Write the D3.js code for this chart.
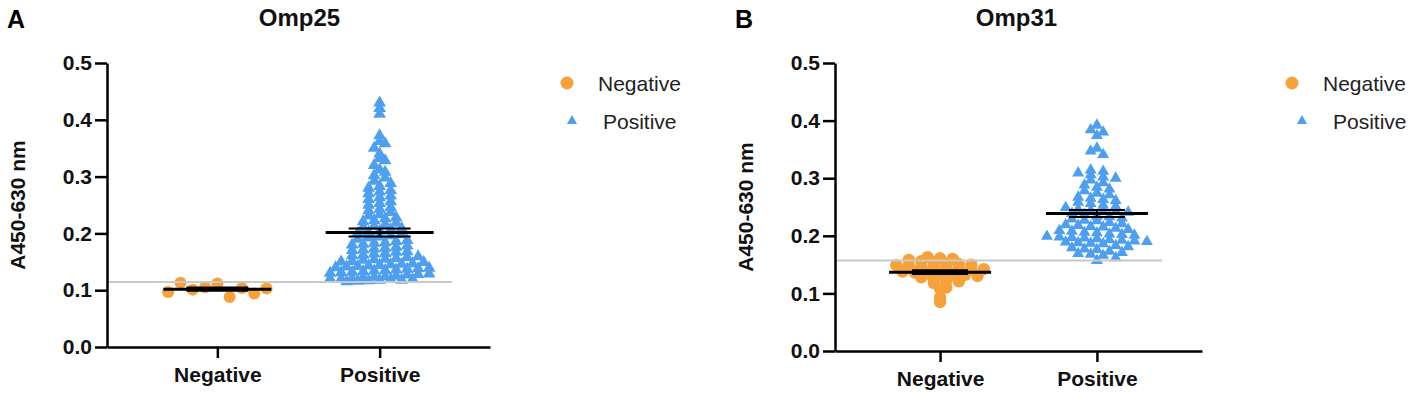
<!DOCTYPE html>
<html>
<head>
<meta charset="utf-8">
<script src="https://cdn.jsdelivr.net/npm/d3@7"></script>
<style>
  body { margin: 0; background: #fff; }
  text { font-family: "Liberation Sans", Arial, Helvetica, sans-serif; }
</style>
</head>
<body>
<svg id="drawing_region"></svg>
<script>
const groups = ["Negative", "Positive"];
const yTicks = [0.0, 0.1, 0.2, 0.3, 0.4, 0.5];

// Omp25 (panel A)
const omp25Negative = [0.097, 0.113, 0.101, 0.105, 0.112, 0.088, 0.104, 0.094, 0.103];
const omp25Positive = [
  0.115, 0.116, 0.117, 0.118, 0.119, 0.118, 0.119,
  0.120, 0.120, 0.121, 0.122, 0.123, 0.124, 0.125,
  0.127, 0.128, 0.129, 0.130, 0.131, 0.132, 0.133, 0.134, 0.135, 0.136,
  0.137, 0.138, 0.139, 0.140, 0.141, 0.142, 0.143, 0.144, 0.145,
  0.146, 0.147, 0.149, 0.150, 0.151, 0.153, 0.154, 0.155,
  0.156, 0.158, 0.159, 0.161, 0.162, 0.164, 0.165,
  0.167, 0.168, 0.170, 0.171, 0.173, 0.174,
  0.176, 0.178, 0.180, 0.181, 0.183, 0.184,
  0.186, 0.188, 0.190, 0.192, 0.194,
  0.196, 0.198, 0.200, 0.202, 0.204,
  0.207, 0.209, 0.211, 0.213,
  0.216, 0.218, 0.221, 0.223,
  0.226, 0.228, 0.231, 0.233,
  0.237, 0.240, 0.243,
  0.246, 0.250, 0.253,
  0.256, 0.260, 0.263,
  0.266, 0.270, 0.273,
  0.276, 0.280, 0.283,
  0.288, 0.292,
  0.298, 0.302,
  0.308, 0.312,
  0.320,
  0.328, 0.332,
  0.340,
  0.350,
  0.358, 0.362,
  0.372,
  0.410, 0.420, 0.430
];
const omp25Cutoff = 0.1145;

// Omp31 (panel B)
const omp31Negative = [
  0.163, 0.161, 0.160,
  0.158, 0.156, 0.154, 0.152, 0.151, 0.150,
  0.149, 0.148, 0.147, 0.146, 0.145, 0.144, 0.143, 0.142,
  0.138, 0.136, 0.135, 0.134, 0.133, 0.132, 0.130,
  0.128, 0.125, 0.122, 0.121,
  0.118, 0.110, 0.108,
  0.093, 0.085
];
const omp31Positive = [
  0.392,
  0.384, 0.380,
  0.374,
  0.352, 0.347,
  0.341,
  0.314, 0.312, 0.309, 0.306,
  0.302, 0.300, 0.297,
  0.292, 0.288,
  0.284, 0.281, 0.278,
  0.274, 0.271, 0.267,
  0.265, 0.263, 0.261, 0.258, 0.256,
  0.253, 0.251, 0.249, 0.246,
  0.244, 0.243, 0.242, 0.241, 0.239, 0.237,
  0.234, 0.233, 0.231, 0.229, 0.227, 0.226,
  0.223, 0.221, 0.219, 0.218, 0.216, 0.215,
  0.213, 0.211, 0.209, 0.208, 0.206, 0.205,
  0.203, 0.202, 0.201, 0.199, 0.198, 0.197, 0.196, 0.195,
  0.193, 0.192, 0.191, 0.190, 0.189, 0.188, 0.187, 0.186,
  0.183, 0.181, 0.179, 0.177, 0.176,
  0.173, 0.171, 0.169, 0.168, 0.166,
  0.162, 0.157
];
const omp31Cutoff = 0.157;

const ORANGE = '#f7a13b';
const BLUE = '#4f9ff0';

const svg = d3.select('#drawing_region')
    .attr('width', 1417)
    .attr('height', 396);

class DotPlot {

    constructor( config, series ) {
        this.config = config;
        this.series = series;
        this.init();
    }

    init() {
        let self = this;
        const c = self.config;

        self.chart = svg.append('g')
            .attr('transform', `translate(${c.left}, ${c.top})`);

        self.inner_width = c.width;
        self.inner_height = c.height;

        self.xscale = d3.scalePoint()
            .domain( groups )
            .range([0, self.inner_width])
            .padding( c.xpadding );

        self.yscale = d3.scaleLinear()
            .domain([0, 0.5])
            .range([self.inner_height, 0]);

        self.xaxis = d3.axisBottom( self.xscale )
            .tickSize(11)
            .tickSizeOuter(0)
            .tickPadding(9);

        self.yaxis = d3.axisLeft( self.yscale )
            .tickValues( yTicks )
            .tickFormat( d3.format('.1f') )
            .tickSize(12)
            .tickSizeOuter(0)
            .tickPadding(3);
    }

    // Prism-like column scatter: points in the same value band spread sideways
    swarm( values, bin, step ) {
        const pts = values.map( (v, i) => ({ v: v, i: i }) );
        const rows = d3.group( pts, d => Math.floor( d.v / bin + 1e-9 ) );
        rows.forEach( row => {
            const n = row.length;
            row.forEach( (d, j) => { d.off = (j - (n - 1) / 2) * step; } );
        });
        return pts;
    }

    render() {
        let self = this;
        const c = self.config;

        // points
        self.series.forEach( s => {
            const cx = self.xscale( s.group );
            const pts = self.swarm( s.values, s.bin, s.step );
            if ( s.shape === 'circle' ) {
                self.chart.append('g').selectAll('circle')
                    .data( pts )
                    .join('circle')
                    .attr('cx', d => cx + d.off )
                    .attr('cy', d => self.yscale( d.v ) )
                    .attr('r', s.r )
                    .attr('fill', s.color );
            } else {
                const tri = d3.symbol().type( d3.symbolTriangle ).size( s.size );
                self.chart.append('g').selectAll('path')
                    .data( pts )
                    .join('path')
                    .attr('d', tri )
                    .attr('transform', d => `translate(${cx + d.off}, ${self.yscale( d.v )})`)
                    .attr('fill', s.color );
            }
        });

        // cutoff line
        self.chart.append('line')
            .attr('x1', 0)
            .attr('x2', c.cutoffEnd)
            .attr('y1', self.yscale( c.cutoff ))
            .attr('y2', self.yscale( c.cutoff ))
            .attr('stroke', '#c9c9c9')
            .attr('stroke-width', 2);

        // mean and SEM
        self.series.forEach( s => {
            const cx = self.xscale( s.group );
            const m = d3.mean( s.values );
            const sem = d3.deviation( s.values ) / Math.sqrt( s.values.length );
            const g = self.chart.append('g').attr('stroke', '#000');
            g.append('line')
                .attr('x1', cx - c.meanWidth / 2).attr('x2', cx + c.meanWidth / 2)
                .attr('y1', self.yscale( m )).attr('y2', self.yscale( m ))
                .attr('stroke-width', 3);
            [m - sem, m + sem].forEach( v => {
                g.append('line')
                    .attr('x1', cx - c.semWidth / 2).attr('x2', cx + c.semWidth / 2)
                    .attr('y1', self.yscale( v )).attr('y2', self.yscale( v ))
                    .attr('stroke-width', 2);
            });
            g.append('line')
                .attr('x1', cx).attr('x2', cx)
                .attr('y1', self.yscale( m - sem )).attr('y2', self.yscale( m + sem ))
                .attr('stroke-width', 2);
        });

        // axes
        const xg = self.chart.append('g')
            .attr('transform', `translate(0, ${self.inner_height})`)
            .call( self.xaxis );
        const yg = self.chart.append('g')
            .call( self.yaxis );

        [xg, yg].forEach( g => {
            g.select('.domain').attr('stroke-width', 2.5);
            g.selectAll('.tick line').attr('stroke-width', 2.5);
            g.selectAll('.tick text')
                .attr('font-size', 21)
                .attr('font-weight', 'bold')
                .attr('fill', '#111');
        });

        // title, panel letter, y label
        svg.append('text')
            .attr('x', c.left + self.inner_width / 2 + c.titleShift).attr('y', 26)
            .attr('text-anchor', 'middle')
            .attr('font-size', 24).attr('font-weight', 'bold')
            .attr('fill', '#111')
            .text( c.title );

        svg.append('text')
            .attr('x', c.letterX).attr('y', 28)
            .attr('font-size', 25).attr('font-weight', 'bold')
            .text( c.letter );

        svg.append('text')
            .attr('transform', `translate(${c.ylabelX}, ${c.top + self.inner_height / 2}) rotate(-90)`)
            .attr('text-anchor', 'middle')
            .attr('font-size', 21).attr('font-weight', 'bold')
            .attr('fill', '#111')
            .text('A450-630 nm');

        // legend
        const lg = svg.append('g');
        lg.append('circle')
            .attr('cx', c.legendX).attr('cy', 83).attr('r', 6.5)
            .attr('fill', ORANGE);
        lg.append('text')
            .attr('x', c.legendX + 31).attr('y', 90.5)
            .attr('font-size', 21).attr('fill', '#222')
            .text( groups[0] );
        lg.append('path')
            .attr('d', d3.symbol().type( d3.symbolTriangle ).size( 45 ))
            .attr('transform', `translate(${c.legendX + c.triShift}, 121)`)
            .attr('fill', BLUE);
        lg.append('text')
            .attr('x', c.legendX + c.triShift + 31).attr('y', 128.5)
            .attr('font-size', 21).attr('fill', '#222')
            .text( groups[1] );
    }
}

const plotA = new DotPlot({
    left: 107, top: 63, width: 383, height: 284, xpadding: 0.68,
    cutoff: omp25Cutoff, cutoffEnd: 345,
    meanWidth: 108, semWidth: 62,
    title: 'Omp25', titleShift: 1, letter: 'A', letterX: 7, ylabelX: 25,
    legendX: 567, triShift: 5
}, [
    { group: 'Negative', values: omp25Negative, shape: 'circle', r: 6, color: ORANGE, bin: 0.5, step: 12.3 },
    { group: 'Positive', values: omp25Positive, shape: 'triangle', size: 70, color: BLUE, bin: 0.01, step: 11 }
]);
plotA.render();

const plotB = new DotPlot({
    left: 835, top: 63, width: 367, height: 288, xpadding: 0.67,
    cutoff: omp31Cutoff, cutoffEnd: 327,
    meanWidth: 102, semWidth: 56,
    title: 'Omp31', titleShift: -2, letter: 'B', letterX: 735, ylabelX: 753,
    legendX: 1292, triShift: 10
}, [
    { group: 'Negative', values: omp31Negative, shape: 'circle', r: 6.2, color: ORANGE, bin: 0.01, step: 12.5 },
    { group: 'Positive', values: omp31Positive, shape: 'triangle', size: 62, color: BLUE, bin: 0.01, step: 12.5 }
]);
plotB.render();
</script>
</body>
</html>
